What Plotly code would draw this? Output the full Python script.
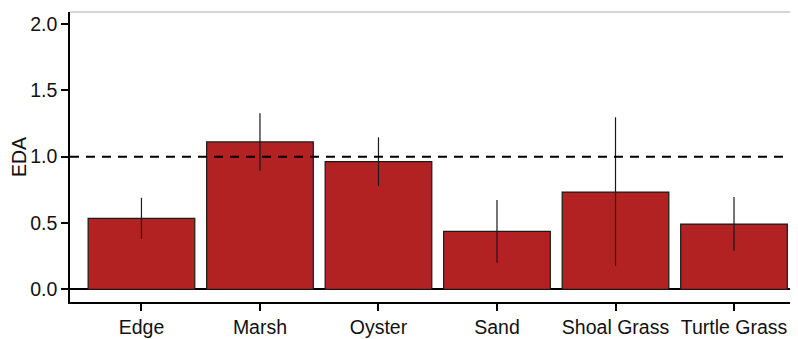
import plotly.graph_objects as go

categories = ["Edge", "Marsh", "Oyster", "Sand", "Shoal Grass", "Turtle Grass"]
eda = [0.535, 1.111, 0.962, 0.437, 0.733, 0.492]
err_upper = [0.690, 1.327, 1.146, 0.673, 1.297, 0.696]
err_lower = [0.379, 0.894, 0.779, 0.200, 0.176, 0.291]
y_ticks = [0.0, 0.5, 1.0, 1.5, 2.0]
reference_level = 1.0

err_plus = [u - v for u, v in zip(err_upper, eda)]
err_minus = [v - l for v, l in zip(eda, err_lower)]

fig = go.Figure()
fig.add_trace(go.Bar(
    x=categories, y=eda,
    marker=dict(color="#B22222", line=dict(color="#1a1a1a", width=1.2)),
    error_y=dict(type="data", symmetric=False, array=err_plus, arrayminus=err_minus,
                 color="#1a1a1a", thickness=1.2, width=0),
))

fig.add_shape(type="line", xref="paper", x0=0, x1=1, yref="y", y0=reference_level, y1=reference_level,
              line=dict(color="black", width=2, dash="9px,7px"))
fig.add_shape(type="line", xref="paper", x0=0, x1=1, yref="paper", y0=1, y1=1,
              line=dict(color="#aaaaaa", width=1))

font = dict(family="Liberation Sans, Arial, sans-serif", size=19.5, color="#111111")
fig.update_layout(
    width=790, height=331,
    margin=dict(l=62, r=0, t=4, b=37),
    plot_bgcolor="white", paper_bgcolor="white",
    bargap=0.1, showlegend=False, font=font,
    xaxis=dict(range=[-0.603, 5.54], showline=True, linecolor="black", linewidth=1.5,
               ticks="outside", ticklen=7, tickwidth=1.5, tickcolor="black",
               showgrid=False, tickfont=font, automargin=False),
    yaxis=dict(range=[-0.096, 2.091], tickvals=y_ticks, ticktext=[f"{v:.1f}" for v in y_ticks],
               showline=True, linecolor="black", linewidth=1.5,
               ticks="outside", ticklen=7, tickwidth=1.5, tickcolor="black",
               showgrid=False, zeroline=True, zerolinecolor="black", zerolinewidth=1.5,
               title=dict(text="EDA", font=font, standoff=0), tickfont=font, automargin=False),
)

fig.write_html("out.html")
